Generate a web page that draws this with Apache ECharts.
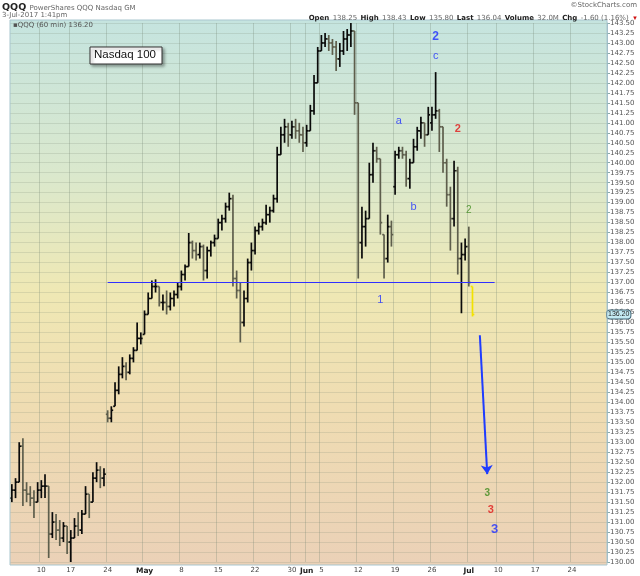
<!DOCTYPE html>
<html><head><meta charset="utf-8">
<script src="https://cdn.jsdelivr.net/npm/echarts@6/dist/echarts.min.js"></script>
<style>html,body{margin:0;padding:0;background:#fff}#c{width:640px;height:576px}</style>
</head><body><div id="c"></div>
<script>
// ---- data ----
const tradingDays = [
 'Apr 4','Apr 5','Apr 6','Apr 7','Apr 10','Apr 11','Apr 12','Apr 13','Apr 17','Apr 18','Apr 19','Apr 20','Apr 21','Apr 24','Apr 25','Apr 26','Apr 27','Apr 28',
 'May 1','May 2','May 3','May 4','May 5','May 8','May 9','May 10','May 11','May 12','May 15','May 16','May 17','May 18','May 19','May 22','May 23','May 24','May 25','May 26','May 30','May 31',
 'Jun 1','Jun 2','Jun 5','Jun 6','Jun 7','Jun 8','Jun 9','Jun 12','Jun 13','Jun 14','Jun 15','Jun 16','Jun 19','Jun 20','Jun 21','Jun 22','Jun 23','Jun 26','Jun 27','Jun 28','Jun 29','Jun 30',
 'Jul 3','Jul 5','Jul 6','Jul 7','Jul 10','Jul 11','Jul 12','Jul 13','Jul 14','Jul 17','Jul 18','Jul 19','Jul 20','Jul 21','Jul 24','Jul 25','Jul 26','Jul 27','Jul 28'
];
const sessions = ['AM','PM'];

// half-day OHLC bars (QQQ, 60-min chart condensed)
const barOpen = [131.6,131.8,132.0,132.9,131.8,131.7,131.6,131.5,131.8,131.9,131.9,130.7,131.0,130.8,130.6,130.9,130.5,130.6,130.9,130.8,
 131.2,131.7,131.5,132.1,132.3,132.1,133.7,133.6,133.9,134.3,134.7,134.9,134.75,135.1,135.3,135.6,135.7,136.2,136.6,136.9,
 136.9,136.5,136.5,136.4,136.6,136.7,136.9,137.2,137.4,138.0,137.8,137.7,137.9,137.3,137.8,138.0,138.1,138.5,138.6,138.9,
 139.1,137.1,136.8,136.0,136.6,137.5,137.8,138.3,138.4,138.5,138.7,138.8,139.1,140.2,140.7,140.9,140.7,140.9,140.8,140.7,
 140.5,140.8,141.3,142.0,142.8,143.0,143.1,143.0,142.9,142.6,142.8,143.1,143.2,143.3,141.5,138.0,138.4,138.6,139.7,140.3,
 140.1,138.2,137.6,138.4,139.4,140.2,140.3,140.2,139.6,140.0,140.4,140.8,141.0,140.7,141.0,141.2,141.3,140.9,140.0,139.2,
 138.6,139.8,137.6,137.7,137.9,136.9];
const barHigh = [131.95,132.1,133.0,133.1,132.0,131.9,131.8,132.0,132.05,132.2,131.9,131.25,131.2,131.05,131.0,130.9,130.8,131.1,131.25,131.3,
 131.9,131.7,132.25,132.5,132.4,132.35,133.8,133.9,134.5,134.9,135.13,135.0,135.2,135.38,136.0,135.75,136.3,136.75,137.05,137.08,
 136.9,136.7,136.8,136.75,136.8,137.0,137.3,137.45,138.24,138.05,138.0,138.0,137.95,137.9,138.05,138.2,138.6,138.7,139.0,139.25,
 139.2,137.3,137.0,136.8,137.6,138.0,138.4,138.5,138.6,138.95,138.9,139.2,140.4,140.9,141.1,141.0,141.05,141.1,141.0,140.9,
 140.95,141.45,142.2,142.9,143.2,143.25,143.2,143.1,143.05,143.0,143.3,143.35,143.5,143.3,141.5,138.9,138.8,140.0,140.5,140.4,
 140.1,138.2,138.7,138.55,140.3,140.4,140.4,140.3,140.1,140.6,140.9,141.15,141.0,141.4,141.4,142.27,141.35,140.9,140.1,139.4,
 140.05,139.9,138.0,138.1,138.4,136.9];
const barLow = [131.5,131.6,132.0,131.4,131.5,131.4,131.1,131.5,131.6,131.6,130.1,130.6,130.55,130.4,130.5,130.2,130.0,130.6,130.65,130.7,
 131.2,131.1,131.5,132.0,131.85,131.9,133.5,133.5,133.9,134.2,134.6,134.55,134.7,135.0,135.3,135.45,135.7,136.2,136.6,136.75,
 136.4,136.3,136.2,136.3,136.4,136.6,136.8,137.05,137.4,137.6,137.55,137.6,137.05,137.1,137.65,137.9,138.1,138.3,138.5,138.8,
 136.9,136.6,135.5,135.9,136.5,137.3,137.7,138.2,138.3,138.45,138.5,138.75,139.0,140.2,140.5,140.4,140.6,140.6,140.5,140.27,
 140.4,140.8,141.2,142.0,142.8,142.9,142.8,142.7,142.3,142.4,142.7,142.8,142.9,141.2,137.1,137.6,137.9,138.6,139.5,140.0,
 138.2,137.1,137.5,137.9,139.2,140.1,140.1,139.4,139.35,140.0,140.3,140.6,140.4,140.7,140.8,141.1,140.27,139.75,138.9,137.8,
 138.4,137.2,136.23,137.55,136.9,136.15];
const barClose = [131.8,132.0,132.9,131.8,131.7,131.6,131.5,131.8,131.9,131.9,130.7,131.0,130.8,130.6,130.9,130.5,130.6,130.9,130.8,131.2,
 131.7,131.5,132.1,132.3,132.1,132.2,133.6,133.8,134.3,134.7,134.9,134.75,135.1,135.3,135.6,135.6,136.2,136.6,136.9,136.9,
 136.5,136.5,136.4,136.6,136.7,136.9,137.2,137.4,138.0,137.8,137.7,137.9,137.3,137.8,138.0,138.1,138.5,138.6,138.9,139.1,
 137.1,136.8,136.0,136.6,137.5,137.8,138.3,138.4,138.5,138.7,138.8,139.1,140.2,140.7,140.9,140.7,140.9,140.8,140.7,140.5,
 140.8,141.3,142.0,142.8,143.0,143.1,143.0,142.9,142.6,142.8,143.1,143.2,143.3,141.5,138.0,138.4,138.6,139.7,140.3,140.1,
 138.5,137.6,138.4,138.2,140.2,140.3,140.2,139.6,140.0,140.4,140.8,141.0,140.7,141.2,141.2,141.3,140.9,140.0,139.2,138.6,
 139.8,137.6,137.7,137.9,137.0,136.2];

const xTickDays = ['Apr 10','Apr 17','Apr 24','May 1','May 8','May 15','May 22','May 30','Jun 1','Jun 5','Jun 12','Jun 19','Jun 26','Jul 3','Jul 10','Jul 17','Jul 24'];
const xTickText = ['10','17','24','May','8','15','22','30','Jun','5','12','19','26','Jul','10','17','24'];
const monthTicks = ['May','Jun','Jul'];
const yMin = 130, yMax = 143.5, yStep = 0.25;

const lastPrice = 136.20;
const supportLevel = 137.0;
const supportSpan = ['Apr 24 AM', 'Jul 7 PM'];
const arrowStart = ['Jul 5 PM', 135.68];
const arrowEnd = ['Jul 6 PM', 132.2];

const annotText  = ['2','c','a','b','2','2','1','3','3','3'];
const annotSlot  = ['Jun 26 PM','Jun 26 PM','Jun 19 PM','Jun 21 PM','Jun 29 PM','Jul 3 AM','Jun 15 AM','Jul 6 PM','Jul 7 AM','Jul 7 PM'];
const annotPrice = [143.15,142.67,141.04,138.9,140.84,138.8,136.56,131.73,131.31,130.82];
const annotColor = ['#1f2fff','#1f2fff','#1f2fff','#1f2fff','#e01818','#3c8a1c','#1f2fff','#3c8a1c','#e01818','#1f2fff'];
const annotSize  = [12,11,11,11,11,10,11,10,11,13];
const annotBold  = [true,false,false,false,true,false,false,true,true,true];

// ---- build ----
const categories = [];
tradingDays.forEach(d => sessions.forEach(s => categories.push(d + ' ' + s)));
const idx = name => categories.indexOf(name);
const tickMap = {};
xTickDays.forEach((d, i) => { tickMap[d + ' AM'] = xTickText[i]; });

const ohlc = barOpen.map((o, i) => [i, o, barHigh[i], barLow[i], barClose[i]]);
const lastIdx = ohlc.length - 1;

const chart = echarts.init(document.getElementById('c'), null, {renderer: 'canvas'});

const option = {
  animation: false,
  grid: {left: 10, right: 33, top: 23, bottom: 14},
  xAxis: {
    type: 'category', data: categories, boundaryGap: true, z: 1,
    axisLine: {show: false}, axisTick: {show: false},
    axisLabel: {
      interval: (i, v) => tickMap[v] !== undefined,
      formatter: v => monthTicks.includes(tickMap[v]) ? '{m|' + tickMap[v] + '}' : tickMap[v],
      fontSize: 7, color: '#444', margin: 5, fontFamily: 'DejaVu Sans',
      rich: {m: {fontSize: 7.5, fontWeight: 'bold', color: '#222', fontFamily: 'DejaVu Sans'}}
    },
    splitLine: {show: true, interval: (i, v) => tickMap[v] !== undefined,
      lineStyle: {color: 'rgba(110,130,110,0.28)', width: 1}}
  },
  yAxis: {
    type: 'value', position: 'right', min: yMin, max: yMax, interval: yStep, z: 1,
    axisLine: {show: true, lineStyle: {color: '#9bb8c4'}},
    axisTick: {show: true, length: 3, lineStyle: {color: '#8aa'}},
    axisLabel: {fontSize: 7, color: '#555', margin: 3, formatter: v => v.toFixed(2), fontFamily: 'DejaVu Sans'},
    splitLine: {show: true, lineStyle: {color: 'rgba(120,135,115,0.2)', width: 1}}
  },
  graphic: [
    {type: 'rect', z: 0, shape: {x: 10, y: 20, width: 597, height: 545},
      style: {fill: new echarts.graphic.LinearGradient(0, 0, 0, 1, [
        {offset: 0, color: '#c5e4df'}, {offset: 0.28, color: '#dae8cd'},
        {offset: 0.5, color: '#efe8b4'}, {offset: 0.72, color: '#efdcb2'}, {offset: 1, color: '#ebd1b7'}])}},
    {type: 'rect', z: 20, shape: {x: 10, y: 20, width: 597, height: 545},
      style: {fill: 'none', stroke: '#a9c6cf', lineWidth: 1}},
    {type: 'text', z: 20, left: 2, top: 2, style: {text: '{b|QQQ} {g|PowerShares QQQ Nasdaq GM}',
      rich: {b: {fontWeight: 'bold', fontSize: 9.5, fill: '#222', fontFamily: 'DejaVu Sans'},
             g: {fontSize: 7, fill: '#666', fontFamily: 'DejaVu Sans'}}}},
    {type: 'text', z: 20, left: 2, top: 12, style: {text: '3-Jul-2017 1:41pm', fontSize: 7, fill: '#666', fontFamily: 'DejaVu Sans'}},
    {type: 'text', z: 20, right: 3, top: 2, style: {text: '©StockCharts.com', fontSize: 7, fill: '#666', fontFamily: 'DejaVu Sans'}},
    {type: 'text', z: 20, right: 2, top: 12, style: {
      text: '{k|Open} {v|138.25} {k|High} {v|138.43} {k|Low} {v|135.80} {k|Last} {v|136.04} {k|Volume} {v|32.0M} {k|Chg} {v|-1.60 (1.16%)} {r|▼}',
      rich: {k: {fontWeight: 'bold', fontSize: 7, fill: '#222', fontFamily: 'DejaVu Sans'},
             v: {fontSize: 7, fill: '#666', fontFamily: 'DejaVu Sans'},
             r: {fontSize: 6, fill: '#d01010'}}}},
    {type: 'text', z: 20, left: 13, top: 22, style: {text: '▪QQQ (60 min) 136.20', fontSize: 7, fill: '#555', fontFamily: 'DejaVu Sans'}},
    {type: 'rect', z: 20, shape: {x: 90, y: 47, width: 72, height: 17},
      style: {fill: '#fff', stroke: '#333', lineWidth: 1, shadowBlur: 3, shadowColor: 'rgba(0,0,0,0.35)', shadowOffsetX: 2, shadowOffsetY: 2}},
    {type: 'text', z: 21, left: 94, top: 49, style: {text: 'Nasdaq 100', fontSize: 11.5, fill: '#111', fontFamily: 'Liberation Sans'}}
  ],
  series: [
    {
      type: 'custom', z: 3, clip: false,
      data: ohlc,
      encode: {x: 0, y: [1, 2, 3, 4]},
      renderItem: (params, api) => {
        const i = api.value(0);
        const o = api.coord([i, api.value(1)]);
        const h = api.coord([i, api.value(2)]);
        const l = api.coord([i, api.value(3)]);
        const c = api.coord([i, api.value(4)]);
        const half = api.size([1, 0])[0] / 2;
        let color = api.value(4) >= api.value(1) ? '#0a0a0a' : '#5e5e4c';
        if (params.dataIndex === lastIdx) color = '#f2e200';
        const st = {stroke: color, lineWidth: 1.7};
        return {type: 'group', children: [
          {type: 'line', shape: {x1: h[0], y1: h[1], x2: l[0], y2: l[1]}, style: st},
          {type: 'line', shape: {x1: o[0] - half, y1: o[1], x2: o[0], y2: o[1]}, style: st},
          {type: 'line', shape: {x1: c[0], y1: c[1], x2: c[0] + half, y2: c[1]}, style: st}
        ]};
      },
      markLine: {
        silent: true, animation: false,
        data: [
          [{coord: [idx(supportSpan[0]), supportLevel], symbol: 'none', label: {show: false}},
           {coord: [idx(supportSpan[1]), supportLevel], symbol: 'none', lineStyle: {color: '#3030ff', width: 1.2, type: 'solid'}}],
          [{coord: [idx(arrowStart[0]), arrowStart[1]], symbol: 'none', label: {show: false}},
           {coord: [idx(arrowEnd[0]), arrowEnd[1]], symbol: 'arrow', symbolSize: 9, lineStyle: {color: '#1f3cff', width: 2, type: 'solid'}}],
          {yAxis: lastPrice, symbol: 'none',
            lineStyle: {color: 'rgba(0,0,0,0)', width: 0},
            label: {show: true, position: 'end', distance: 0, formatter: lastPrice.toFixed(2), fontSize: 7,
              color: '#222', backgroundColor: '#c4ebf3', borderColor: '#3f6475', borderWidth: 1, borderRadius: 3, padding: [1, 1, 0, 1]}}
        ],
        label: {show: false}
      }
    },
    {
      type: 'scatter', z: 4, symbolSize: 0,
      data: annotText.map((t, i) => ({
        value: [idx(annotSlot[i]), annotPrice[i]],
        label: {show: true, position: 'inside', formatter: t, color: annotColor[i], fontSize: annotSize[i],
          fontWeight: annotBold[i] ? 'bold' : 'normal', fontFamily: 'Liberation Sans'}
      }))
    }
  ]
};
chart.setOption(option);
</script>
</body></html>
